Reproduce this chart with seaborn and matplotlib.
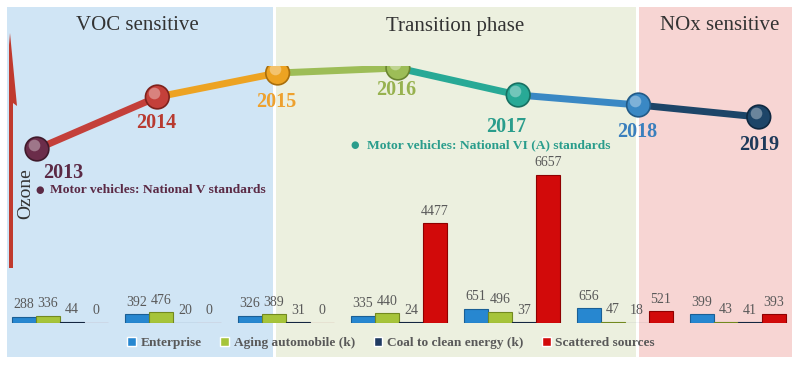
import numpy as np
import pandas as pd
import matplotlib
matplotlib.use("Agg")
import matplotlib.pyplot as plt
import seaborn as sns
from matplotlib.patches import Rectangle, Polygon
from matplotlib.transforms import ScaledTranslation

# ---------------- data ----------------
years = ["2013", "2014", "2015", "2016", "2017", "2018", "2019"]
categories = ["Enterprise", "Aging automobile (k)", "Coal to clean energy (k)", "Scattered sources"]
enterprise = [288, 392, 326, 335, 651, 656, 399]
aging_auto = [336, 476, 389, 440, 496, 47, 43]
coal_clean = [44, 20, 31, 24, 37, 18, 41]
scattered = [0, 0, 0, 4477, 6657, 521, 393]
# qualitative ozone level (arbitrary units)
ozone_level = [17, 69, 93, 98, 71, 61, 49]
phases = ["VOC sensitive", "Transition phase", "NOx sensitive"]
notes = ["Motor vehicles: National V standards", "Motor vehicles: National VI (A) standards"]

# ---------------- style ----------------
sns.set_theme(style="white")
plt.rcParams["font.family"] = ["Liberation Serif", "DejaVu Serif"]

W, H = 800, 366
fig = plt.figure(figsize=(W / 100, H / 100), dpi=100)
fig.patch.set_facecolor("white")

def fx(px):
    return px / W

def fy(py):
    return 1 - py / H

# ---------------- background panels ----------------
ax_bg = fig.add_axes([0, 0, 1, 1])
ax_bg.set_xlim(0, W)
ax_bg.set_ylim(H, 0)
ax_bg.axis("off")
panel_spans = [(7, 273, "#d0e5f5"), (276, 636, "#ecf0df"), (639, 792, "#f7d5d3")]
for (x0, x1, col) in panel_spans:
    ax_bg.add_patch(Rectangle((x0, 7), x1 - x0, 350, facecolor=col, edgecolor="none"))
title_x = [137, 455, 720]
for t, tx in zip(phases, title_x):
    ax_bg.text(tx, 26, t, ha="center", va="center", fontsize=15, color="#333333")

# ozone arrow
arrow_col = "#c03a2e"
ax_bg.add_patch(Polygon([(10, 33), (17, 106), (13, 103), (13, 268), (9, 268), (9, 45)],
                        closed=True, facecolor=arrow_col, edgecolor="none"))
ax_bg.text(26, 194, "Ozone", rotation=90, ha="center", va="center", fontsize=14, color="#333333")

# ---------------- bars ----------------
df = pd.DataFrame({
    "year": np.repeat(years, len(categories)),
    "category": categories * len(years),
    "value": np.ravel(np.column_stack([enterprise, aging_auto, coal_clean, scattered])),
})
bar_colors = ["#2787d0", "#a6c43a", "#1f3a62", "#d20a0a"]
edge_colors = ["#1a5f95", "#72891f", "#142640", "#8f0000"]

base_px = 323
top_px = 7
ax_h_px = base_px - top_px
ax_bar = fig.add_axes([fx(3.5), fy(base_px), fx(791), ax_h_px / H])
ax_bar.patch.set_alpha(0)
sns.barplot(data=df, x="year", y="value", hue="category", hue_order=categories,
            order=years, palette=bar_colors, width=0.85, saturation=1, ax=ax_bar)
for cont, ec in zip(ax_bar.containers, edge_colors):
    for p in cont:
        p.set_edgecolor(ec)
        p.set_linewidth(0.8)
    ax_bar.bar_label(cont, labels=[f"{int(v)}" for v in cont.datavalues],
                     padding=4, fontsize=10, color="#595959")
ax_bar.set_xlim(-0.5, 6.5)
ax_bar.set_ylim(0, max(scattered) * ax_h_px / 148)
ax_bar.axis("off")

handles, labels = ax_bar.get_legend_handles_labels()
ax_bar.get_legend().remove()
leg = fig.legend(handles, labels, loc="center", bbox_to_anchor=(fx(391), fy(343)),
                 ncol=4, frameon=False, handlelength=0.65, handleheight=0.65,
                 handletextpad=0.35, columnspacing=1.4,
                 prop={"weight": "bold", "size": 9.6})
for t in leg.get_texts():
    t.set_color("#595959")

# ---------------- ozone line ----------------
ax_line = fig.add_axes([0, fy(166), 1, 100 / H])
ax_line.patch.set_alpha(0)
ax_line.axis("off")
step = 120.3
ax_line.set_xlim(-37 / step, (W - 37) / step)
ax_line.set_ylim(0, 100)

pt_colors = ["#6b2d4a", "#c4403a", "#eda322", "#9dbd57", "#28a996", "#3a88c4", "#1d4568"]
pt_edges = ["#3f1a2b", "#7e221c", "#a86e0c", "#6a8530", "#177062", "#215a87", "#0f2840"]
lbl_colors = ["#5b2a45", "#b83a30", "#eea12e", "#97b24f", "#2a9d8c", "#3a7fbd", "#1e3a5a"]
xs = np.arange(len(years))
for i in range(1, len(years)):
    ax_line.plot(xs[i - 1:i + 1], ozone_level[i - 1:i + 1], color=pt_colors[i],
                 lw=5, solid_capstyle="butt", zorder=2)
sns.scatterplot(x=xs, y=ozone_level, hue=years, palette=pt_colors, s=290,
                edgecolor=pt_edges, linewidth=1.2, legend=False, ax=ax_line, zorder=3)
hl = ax_line.transData + ScaledTranslation(-0.03, 0.04, fig.dpi_scale_trans)
ax_line.scatter(xs, ozone_level, s=70, c="white", alpha=0.35, linewidths=0,
                transform=hl, zorder=4)
ax_line.set_xlim(-37 / step, (W - 37) / step)
ax_line.set_ylim(0, 100)
ax_line.axis("off")

offsets_px = [(26, 24), (-1, 26), (-1, 29), (-2, 22), (-12, 32), (-1, 27), (0, 28)]
for i, (yr, (dx, dy)) in enumerate(zip(years, offsets_px)):
    ax_line.annotate(yr, (xs[i], ozone_level[i]), xytext=(dx * 0.72, -dy * 0.72),
                     textcoords="offset points", ha="center", va="center",
                     fontsize=14.5, fontweight="bold", color=lbl_colors[i], zorder=5)

# ---------------- standards notes ----------------
fig.text(fx(40), fy(190), "\u25CF", ha="center", va="center", fontsize=7,
         color=lbl_colors[0], family=["DejaVu Sans"])
fig.text(fx(50), fy(190), notes[0], ha="left", va="center", fontsize=9.7,
         fontweight="bold", color=lbl_colors[0])
fig.text(fx(355), fy(145), "\u25CF", ha="center", va="center", fontsize=7,
         color=lbl_colors[4], family=["DejaVu Sans"])
fig.text(fx(367), fy(145), notes[1], ha="left", va="center", fontsize=9.7,
         fontweight="bold", color=lbl_colors[4])

fig.savefig("out.png", dpi=100, facecolor="white")
